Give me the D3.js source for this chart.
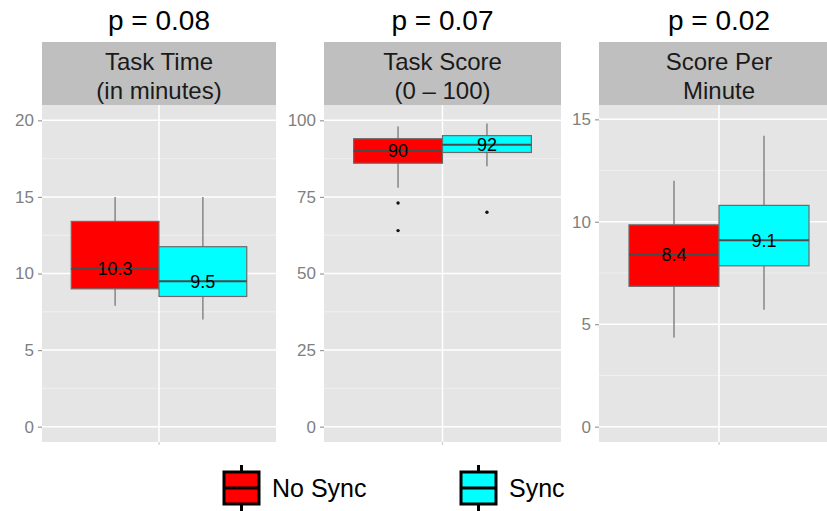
<!DOCTYPE html>
<html>
<head>
<meta charset="utf-8">
<script src="https://cdn.jsdelivr.net/npm/d3@7"></script>
<style>
  body { margin: 0; background: #fff; }
  svg { display: block; font-family: "Liberation Sans", Arial, sans-serif; }
</style>
</head>
<body>
<div id="chart"></div>
<script>
// chart data
const facets = [["Task Time", "(in minutes)"], ["Task Score", "(0 \u2013 100)"], ["Score Per", "Minute"]];
const pValues = ["p = 0.08", "p = 0.07", "p = 0.02"];
const groups = ["No Sync", "Sync"];
const groupColors = ["#ff0000", "#00ffff"];
const yTicks = [[0, 5, 10, 15, 20], [0, 25, 50, 75, 100], [0, 5, 10, 15]];
const yDomains = [[-1, 21], [-5, 105], [-0.75, 15.7]];

// box stats per facet: [lower whisker, q1, median, q3, upper whisker]
const noSyncStats = [[7.9, 9.0, 10.3, 13.4, 15.0], [78, 86, 90, 94, 98], [4.35, 6.85, 8.4, 9.85, 12.0]];
const syncStats = [[7.0, 8.5, 9.5, 11.75, 15.0], [85, 89.5, 92, 95, 99], [5.7, 7.85, 9.1, 10.8, 14.2]];
const noSyncOutliers = [[], [73, 64], []];
const syncOutliers = [[], [70], []];
const medianLabels = [["10.3", "9.5"], ["90", "92"], ["8.4", "9.1"]];

// layout
const W = 827, H = 511;
const stripTop = 42, panelTop = 105, panelBottom = 442;
const panelX = [[42, 276], [324, 561], [599, 839]];

const svg = d3.select("#chart").append("svg")
  .attr("width", W).attr("height", H);

facets.forEach(function(lines, i) {
  const x0 = panelX[i][0], x1 = panelX[i][1];
  const cx = (x0 + x1) / 2;
  const y = d3.scaleLinear().domain(yDomains[i]).range([panelBottom, panelTop]);
  const half = (x1 - x0) * 0.375;
  const xb = d3.scaleBand().domain(groups).range([cx - half, cx + half]).padding(0);

  const g = svg.append("g");

  // panel background
  g.append("rect")
    .attr("x", x0).attr("y", panelTop)
    .attr("width", x1 - x0).attr("height", panelBottom - panelTop)
    .attr("fill", "#e5e5e5");

  // minor grid
  const ticks = yTicks[i];
  const minor = d3.pairs(ticks).map(p => (p[0] + p[1]) / 2);
  g.selectAll(".minor").data(minor).join("line")
    .attr("x1", x0).attr("x2", x1)
    .attr("y1", d => y(d)).attr("y2", d => y(d))
    .attr("stroke", "#f2f2f2").attr("stroke-width", 0.8);

  // major grid
  g.selectAll(".major").data(ticks).join("line")
    .attr("x1", x0).attr("x2", x1)
    .attr("y1", d => y(d)).attr("y2", d => y(d))
    .attr("stroke", "#ffffff").attr("stroke-width", 1.5);
  g.append("line")
    .attr("x1", cx).attr("x2", cx)
    .attr("y1", panelTop).attr("y2", panelBottom)
    .attr("stroke", "#ffffff").attr("stroke-width", 1.5);
  // small x tick below panel
  g.append("line")
    .attr("x1", cx).attr("x2", cx)
    .attr("y1", panelBottom).attr("y2", panelBottom + 3)
    .attr("stroke", "#cccccc").attr("stroke-width", 1.2);

  // y axis
  const ax = g.append("g")
    .attr("transform", `translate(${x0},0)`)
    .call(d3.axisLeft(y).tickValues(ticks).tickSize(4).tickPadding(4));
  ax.select(".domain").remove();
  ax.selectAll(".tick line").attr("stroke", "#999999").attr("stroke-width", 1.2);
  ax.selectAll(".tick text")
    .attr("fill", "#7f7f7f")
    .attr("font-size", 17)
    .attr("font-family", "Liberation Sans, Arial, sans-serif");

  // strip
  g.append("rect")
    .attr("x", x0).attr("y", stripTop)
    .attr("width", x1 - x0).attr("height", panelTop - stripTop)
    .attr("fill", "#bfbfbf");
  g.append("text")
    .attr("x", cx).attr("y", 70)
    .attr("text-anchor", "middle")
    .attr("font-size", 24).attr("fill", "#1a1a1a")
    .text(lines[0]);
  g.append("text")
    .attr("x", cx).attr("y", 99)
    .attr("text-anchor", "middle")
    .attr("font-size", 24).attr("fill", "#1a1a1a")
    .text(lines[1]);

  // p value title
  svg.append("text")
    .attr("x", cx).attr("y", 30)
    .attr("text-anchor", "middle")
    .attr("font-size", 28).attr("fill", "#000")
    .text(pValues[i]);

  // boxes
  const rows = [
    {grp: groups[0], s: noSyncStats[i], out: noSyncOutliers[i], col: groupColors[0], lab: medianLabels[i][0]},
    {grp: groups[1], s: syncStats[i], out: syncOutliers[i], col: groupColors[1], lab: medianLabels[i][1]}
  ];
  rows.forEach(function(r) {
    const bx = xb(r.grp), bw = xb.bandwidth(), mx = bx + bw / 2;
    // whiskers
    g.append("line")
      .attr("x1", mx).attr("x2", mx)
      .attr("y1", y(r.s[4])).attr("y2", y(r.s[3]))
      .attr("stroke", "#8c8c8c").attr("stroke-width", 1.6);
    g.append("line")
      .attr("x1", mx).attr("x2", mx)
      .attr("y1", y(r.s[1])).attr("y2", y(r.s[0]))
      .attr("stroke", "#8c8c8c").attr("stroke-width", 1.6);
    // box
    g.append("rect")
      .attr("x", bx).attr("y", y(r.s[3]))
      .attr("width", bw).attr("height", y(r.s[1]) - y(r.s[3]))
      .attr("fill", r.col)
      .attr("stroke", "#6b6b6b").attr("stroke-width", 1.2);
    // median
    g.append("line")
      .attr("x1", bx).attr("x2", bx + bw)
      .attr("y1", y(r.s[2])).attr("y2", y(r.s[2]))
      .attr("stroke", "#4a4a4a").attr("stroke-width", 2);
    // outliers
    g.selectAll(null).data(r.out).join("circle")
      .attr("cx", mx).attr("cy", d => y(d))
      .attr("r", 1.7).attr("fill", "#111");
    // median label
    g.append("text")
      .attr("x", mx).attr("y", y(r.s[2]))
      .attr("dy", "0.36em")
      .attr("text-anchor", "middle")
      .attr("font-size", 18).attr("fill", "#000")
      .text(r.lab);
  });
});

// legend
const legendX = [224, 461];
const leg = svg.append("g");
groups.forEach(function(name, i) {
  const lx = legendX[i], ly = 472, kw = 35, kh = 32;
  leg.append("line")
    .attr("x1", lx + kw / 2).attr("x2", lx + kw / 2)
    .attr("y1", ly - 7).attr("y2", ly + kh + 7)
    .attr("stroke", "#000").attr("stroke-width", 3);
  leg.append("rect")
    .attr("x", lx).attr("y", ly).attr("width", kw).attr("height", kh)
    .attr("fill", groupColors[i])
    .attr("stroke", "#000").attr("stroke-width", 3);
  leg.append("line")
    .attr("x1", lx).attr("x2", lx + kw)
    .attr("y1", ly + kh / 2).attr("y2", ly + kh / 2)
    .attr("stroke", "#000").attr("stroke-width", 3);
  leg.append("text")
    .attr("x", lx + kw + 13).attr("y", ly + kh / 2)
    .attr("dy", "0.36em")
    .attr("font-size", 25).attr("fill", "#000")
    .text(name);
});
</script>
</body>
</html>
